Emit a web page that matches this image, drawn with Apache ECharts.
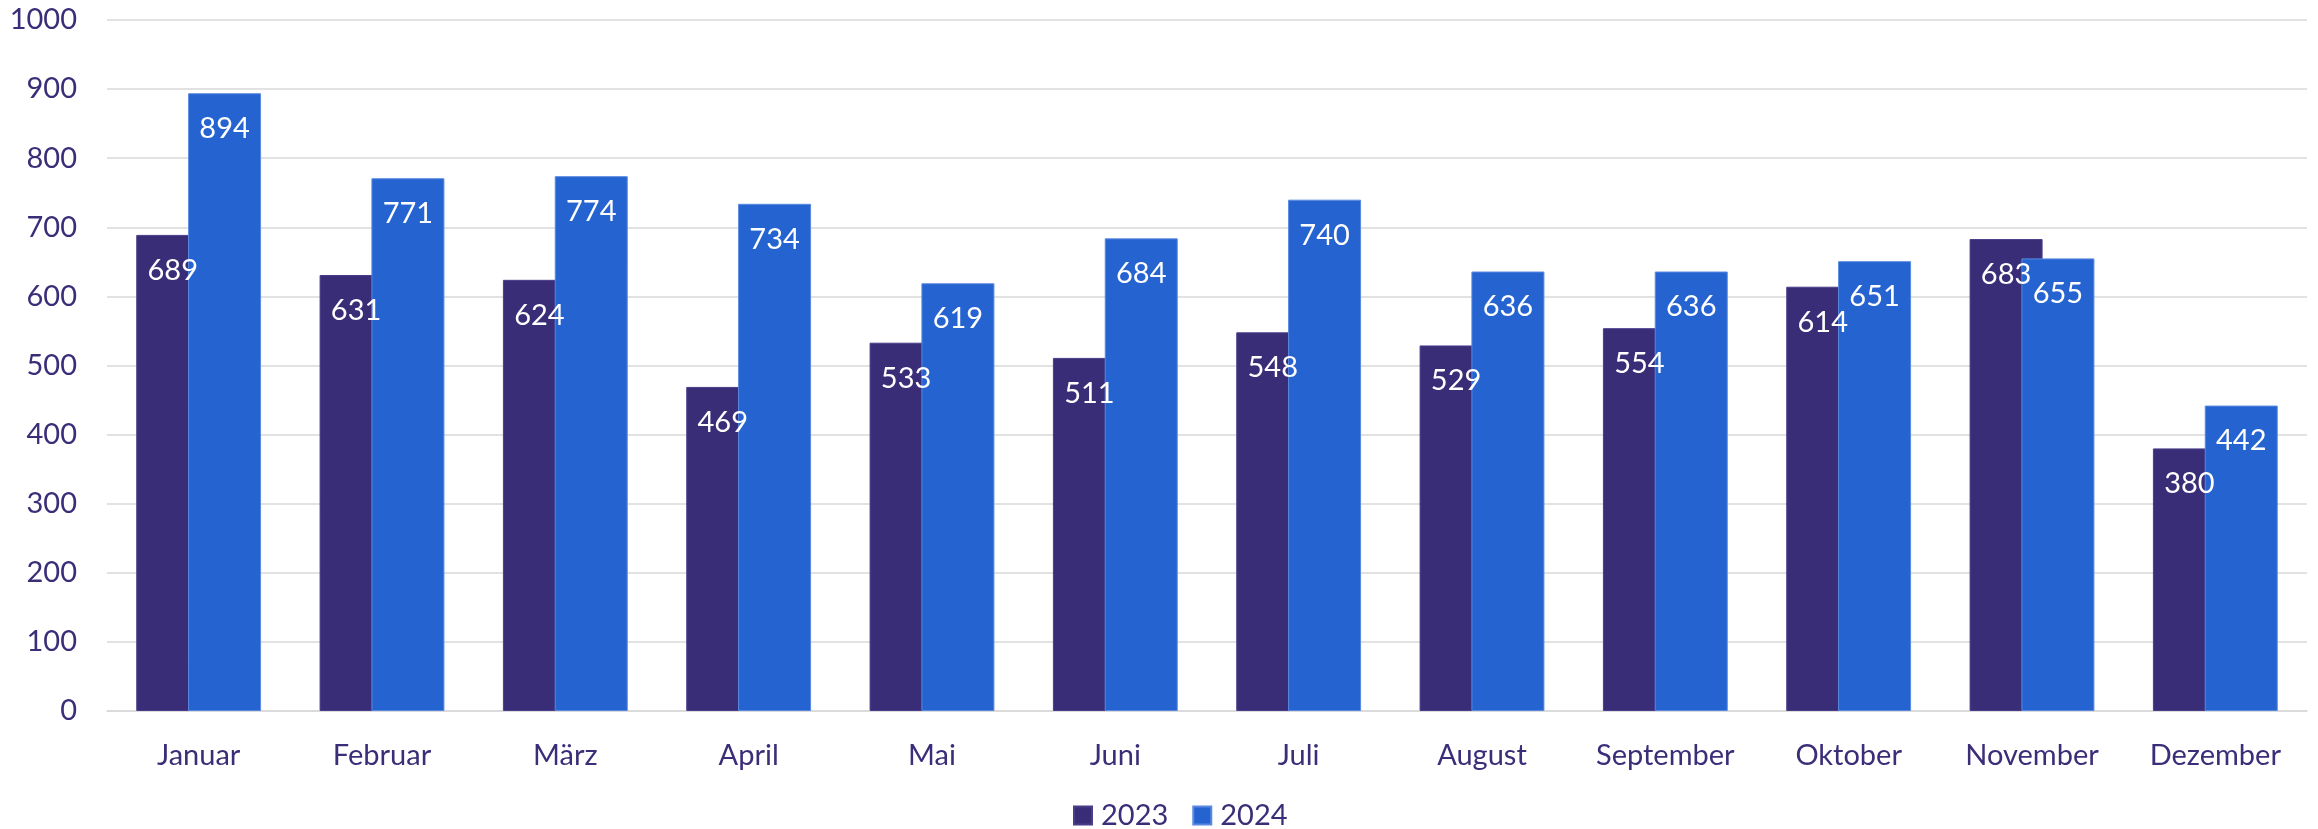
<!DOCTYPE html>
<html>
<head>
<meta charset="utf-8">
<script src="https://cdn.jsdelivr.net/npm/echarts@6/dist/echarts.min.js"></script>
<style>
  html, body { margin: 0; padding: 0; background: #fff; }
  #chart { width: 2318px; height: 829px; }
</style>
</head>
<body>
<div id="chart"></div>
<script>
const months = ["Januar", "Februar", "März", "April", "Mai", "Juni", "Juli", "August", "September", "Oktober", "November", "Dezember"];
const values2023 = [689, 631, 624, 469, 533, 511, 548, 529, 554, 614, 683, 380];
const values2024 = [894, 771, 774, 734, 619, 684, 740, 636, 636, 651, 655, 442];

const textColor = "#3b2d78";
const fontFamily = "Lato, 'Open Sans', sans-serif";

const myChart = echarts.init(document.getElementById("chart"));

const barLabel = {
  show: true,
  position: "insideTop",
  distance: 21,
  color: "#ffffff",
  fontSize: 29,
  fontFamily: fontFamily,
};

const option = {
  animation: false,
  color: ["#3a2d78", "#2563d1"],
  grid: {
    left: 107,
    right: 11,
    top: 20,
    bottom: 118,
  },
  legend: {
    left: 1068,
    top: 796,
    itemWidth: 18,
    itemHeight: 18,
    itemGap: 24,
    icon: "rect",
    textStyle: {
      color: textColor,
      fontSize: 29,
      fontFamily: fontFamily,
      padding: [0, 0, 0, 4],
    },
    data: ["2023", "2024"],
  },
  xAxis: {
    type: "category",
    data: months,
    axisTick: { show: false },
    axisLine: {
      lineStyle: { color: "#d9d9d9", width: 1.5 },
    },
    axisLabel: {
      color: textColor,
      fontSize: 29,
      fontFamily: fontFamily,
      margin: 30,
    },
  },
  yAxis: {
    type: "value",
    min: 0,
    max: 1000,
    interval: 100,
    axisLine: { show: false },
    axisTick: { show: false },
    axisLabel: {
      color: textColor,
      fontSize: 29,
      fontFamily: fontFamily,
      margin: 30,
      formatter: (v) => String(v),
    },
    splitLine: {
      lineStyle: { color: "#d9d9d9", width: 1.5 },
    },
  },
  series: [
    {
      name: "2023",
      type: "bar",
      barWidth: 73,
      barGap: "-29%",
      data: values2023,
      label: barLabel,
      itemStyle: { borderColor: "#4a3d8a", borderWidth: 1 },
    },
    {
      name: "2024",
      type: "bar",
      barWidth: 73,
      data: values2024,
      label: barLabel,
      itemStyle: { borderColor: "#5a8ae0", borderWidth: 1 },
    },
  ],
};

myChart.setOption(option);
window.addEventListener("resize", () => myChart.resize());
</script>
</body>
</html>
